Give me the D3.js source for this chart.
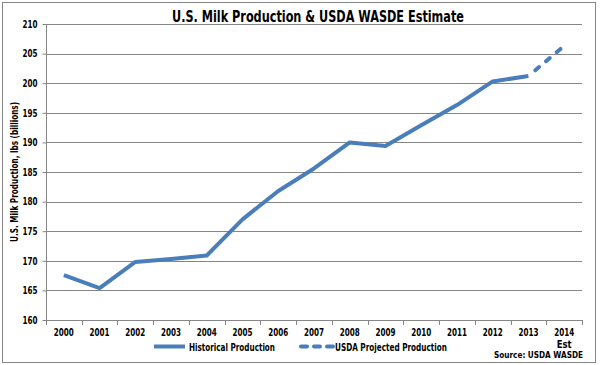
<!DOCTYPE html>
<html>
<head>
<meta charset="utf-8">
<script src="https://cdn.jsdelivr.net/npm/d3@7"></script>
<style>
  html, body { margin: 0; padding: 0; background: #fff; }
  svg text { font-family: "DejaVu Sans Condensed", "Liberation Sans", sans-serif; font-weight: bold; fill: #000; }
</style>
</head>
<body>
<svg id="chart" width="600" height="365"></svg>
<script>
const years = ["2000","2001","2002","2003","2004","2005","2006","2007","2008","2009","2010","2011","2012","2013","2014"];
const historical = [167.6, 165.4, 169.8, 170.3, 170.9, 177.0, 181.8, 185.6, 190.0, 189.4, 192.9, 196.3, 200.3, 201.2];
const projected = [201.2, 206.3];
const projectedYears = ["2013","2014"];
const yTicks = [160, 165, 170, 175, 180, 185, 190, 195, 200, 205, 210];
const titleText = "U.S. Milk Production & USDA WASDE Estimate";
const yLabel = "U.S. Milk Production, lbs (billions)";
const legendLabels = ["Historical Production", "USDA Projected Production"];
const sourceText = "Source: USDA WASDE";

const color = "#4A7EBB";
const svg = d3.select("#chart");

function fit(sel, len) {
  sel.attr("textLength", len).attr("lengthAdjust", "spacingAndGlyphs");
}

// frame
svg.append("rect").attr("x", 2.5).attr("y", 2.5).attr("width", 593).attr("height", 360)
  .attr("fill", "#fff").attr("stroke", "#868686").attr("stroke-width", 1);

const x = d3.scaleBand().domain(years).range([46, 582]);
const y = d3.scaleLinear().domain([160, 210]).range([320, 24]);

// gridlines
svg.append("g").selectAll("line").data(yTicks.slice(1)).join("line")
  .attr("x1", 46).attr("x2", 582)
  .attr("y1", d => Math.round(y(d)) + 0.5).attr("y2", d => Math.round(y(d)) + 0.5)
  .attr("stroke", "#868686").attr("stroke-width", 1);

// y axis
const yAxis = svg.append("g").attr("transform", "translate(46.5,0)")
  .call(d3.axisLeft(y).tickValues(yTicks).tickSize(4).tickPadding(5));
yAxis.select(".domain").attr("stroke", "#868686").attr("d", "M0,24V320");
yAxis.selectAll(".tick line").attr("stroke", "#868686");
yAxis.selectAll(".tick text").style("font-size", "10.5px").call(fit, 15);

// x axis
const xAxis = svg.append("g").attr("transform", "translate(0,320.5)")
  .call(d3.axisBottom(x).tickSize(0).tickPadding(8));
xAxis.select(".domain").attr("stroke", "#868686").attr("d", "M46,0H582");
xAxis.selectAll(".tick text").style("font-size", "10.5px").call(fit, 20);
// band boundary tick marks
svg.append("g").selectAll("line").data(years.concat(["end"])).join("line")
  .attr("x1", (d, i) => Math.round(46 + i * x.step()) + 0.5)
  .attr("x2", (d, i) => Math.round(46 + i * x.step()) + 0.5)
  .attr("y1", 320).attr("y2", 325)
  .attr("stroke", "#868686");

// "Est" under 2014
svg.append("text").attr("x", x("2014") + x.bandwidth() / 2).attr("y", 347.5)
  .attr("text-anchor", "middle").style("font-size", "10.5px").text("Est").call(fit, 15);

// lines
const line = d3.line().x(d => x(d[0]) + x.bandwidth() / 2).y(d => y(d[1]));
svg.append("path").datum(historical.map((v, i) => [years[i], v]))
  .attr("d", line).attr("fill", "none").attr("stroke", color)
  .attr("stroke-width", 4).attr("stroke-linejoin", "round");
svg.append("path").datum(projected.map((v, i) => [projectedYears[i], v]))
  .attr("d", line).attr("fill", "none").attr("stroke", color)
  .attr("stroke-width", 4).attr("stroke-linecap", "round")
  .attr("stroke-dasharray", "5,9").attr("stroke-dashoffset", -9);

// title
svg.append("text").attr("x", 318).attr("y", 22).attr("text-anchor", "middle")
  .style("font-size", "15px").text(titleText).call(fit, 292);

// y label
svg.append("text").attr("transform", "translate(18,172) rotate(-90)")
  .attr("text-anchor", "middle").style("font-size", "10px").text(yLabel).call(fit, 140);

// legend
const lg = svg.append("g");
lg.append("line").attr("x1", 154).attr("x2", 185).attr("y1", 346.5).attr("y2", 346.5)
  .attr("stroke", color).attr("stroke-width", 4);
lg.append("text").attr("x", 189).attr("y", 350.5).style("font-size", "10.5px")
  .text(legendLabels[0]).call(fit, 86);
lg.append("line").attr("x1", 301).attr("x2", 333).attr("y1", 346.5).attr("y2", 346.5)
  .attr("stroke", color).attr("stroke-width", 4).attr("stroke-linecap", "round")
  .attr("stroke-dasharray", "6,7");
lg.append("text").attr("x", 335).attr("y", 350.5).style("font-size", "10.5px")
  .text(legendLabels[1]).call(fit, 112);

// source
svg.append("text").attr("x", 583).attr("y", 357.5).attr("text-anchor", "end")
  .style("font-size", "9.5px").text(sourceText).call(fit, 89);
</script>
</body>
</html>
